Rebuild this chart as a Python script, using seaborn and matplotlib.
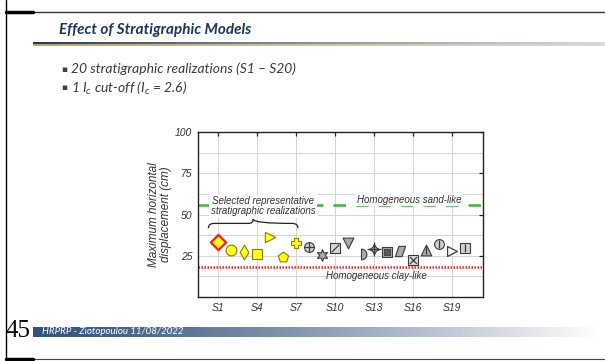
import matplotlib
matplotlib.use("Agg")
import matplotlib.pyplot as plt
import numpy as np
import pandas as pd
import seaborn as sns
from matplotlib.path import Path
from matplotlib.patches import PathPatch

# ── Data ──────────────────────────────────────────────────────────────────────
realizations = [f"S{i}" for i in range(1, 21)]
max_disp = [33.5, 28.4, 27.0, 26.0, 36.5, 24.4, 33.0, 30.4, 25.4, 29.6,
            33.0, 26.0, 29.0, 27.0, 28.0, 22.6, 28.4, 32.0, 27.6, 29.6]
sand_like = 56.0
clay_like = 18.0
tick_labels = ["S1", "S4", "S7", "S10", "S13", "S16", "S19"]

df = pd.DataFrame({"real": realizations,
                   "pos": np.arange(1, len(realizations) + 1),
                   "disp": max_disp})

# ── Marker styles ─────────────────────────────────────────────────────────────
YEL, YEDGE = "#ffff1a", "#8a7d00"
GRY, GEDGE = "#a8a8a8", "#3c3c3c"
half_disk = Path.wedge(-90, 90)
para = Path([(-1, -1), (0.3, -1), (1, 1), (-0.3, 1), (-1, -1)],
            [Path.MOVETO, Path.LINETO, Path.LINETO, Path.LINETO, Path.CLOSEPOLY])
diag = Path([(-1, -1), (1, 1)], [Path.MOVETO, Path.LINETO])

# (marker, face, edge, size, lw, overlay marker, overlay size)
styles = [
    ("D", YEL, "#ff1a1a", 60, 1.6, None, 0),
    ("o", YEL, YEDGE, 60, 0.8, None, 0),
    ("d", YEL, YEDGE, 55, 0.8, None, 0),
    ("s", YEL, YEDGE, 55, 0.8, None, 0),
    (">", YEL, YEDGE, 55, 0.8, None, 0),
    ("p", YEL, YEDGE, 60, 0.8, None, 0),
    ("P", YEL, YEDGE, 60, 0.8, None, 0),
    ("o", "#d0d0d0", GEDGE, 50, 0.8, "+", 50),
    ((6, 1, 0), GRY, GEDGE, 70, 0.8, None, 0),
    ("s", "#d8d8d8", GEDGE, 45, 0.8, diag, 30),
    ("v", GRY, GEDGE, 60, 0.8, None, 0),
    (half_disk, GRY, GEDGE, 60, 0.8, None, 0),
    ((4, 1, 0), GRY, GEDGE, 55, 0.8, "+", 110),
    ("s", GRY, GEDGE, 50, 0.8, "s", 14),
    (para, GRY, GEDGE, 55, 0.8, None, 0),
    ("s", "#dcdcdc", GEDGE, 45, 0.8, "x", 25),
    ("^", GRY, GEDGE, 60, 0.8, "|", 40),
    ("o", "#d0d0d0", GEDGE, 50, 0.8, "|", 40),
    (">", "white", GEDGE, 50, 0.9, None, 0),
    ("s", "#d0d0d0", GEDGE, 50, 0.8, "|", 40),
]

# ── Figure / slide ────────────────────────────────────────────────────────────
sns.set_theme(style="white")
plt.rcParams["font.family"] = ["Liberation Sans", "DejaVu Sans"]
plt.rcParams["mathtext.fontset"] = "custom"
plt.rcParams["mathtext.it"] = "Lato:italic"
plt.rcParams["mathtext.rm"] = "Lato"

W, H = 605, 361
fig = plt.figure(figsize=(W / 100, H / 100), dpi=100)
fig.patch.set_facecolor("white")


def fx(px):
    return px / W


def fy(py):
    return 1 - py / H


# frame lines
fig.add_artist(plt.Line2D([fx(6), fx(6)], [0, 1], color="black", lw=1.0))
fig.add_artist(plt.Line2D([fx(6), 1], [fy(12), fy(12)], color="#333333", lw=1.0))
fig.add_artist(plt.Line2D([fx(6), fx(33)], [fy(12), fy(12)], color="black", lw=2.5))
fig.add_artist(plt.Line2D([fx(6), 1], [fy(359), fy(359)], color="#444444", lw=0.8))
fig.add_artist(plt.Line2D([fx(6), fx(33)], [fy(359), fy(359)], color="black", lw=2.5))

# title + gradient rule
fig.text(fx(59), fy(30), "Effect of Stratigraphic Models", family="Lato",
         style="italic", weight="bold", size=11, color="#1f3560", va="center")
grad = np.linspace(0, 1, 256)[None, :]
for y0, h, col in [(42, 2, (0.12, 0.2, 0.38)), (44, 2.5, (0.72, 0.65, 0.35))]:
    gax = fig.add_axes([fx(33), fy(y0 + h), fx(605 - 33), h / H])
    t = grad[..., None] ** 0.8
    rgb = np.array(col)[None, None, :] * (1 - t) + 0.85 * t
    gax.imshow(np.clip(rgb, 0, 1), aspect="auto")
    gax.axis("off")

bullets = ["20 stratigraphic realizations (S1 – S20)",
           "1 $I_c$ cut-off ($I_c$ = 2.6)"]
for i, b in enumerate(bullets):
    yy = 69 + 19 * i
    fig.text(fx(61), fy(yy), "▪", size=6.5, color="#404040", va="center",
             family="DejaVu Sans")
    fig.text(fx(71), fy(yy), b, family="Lato", style="italic", size=10,
             color="#3a3a3a", va="center")

# footer
fax = fig.add_axes([fx(33), fy(337), fx(600 - 33), 10 / H])
base = np.array([0.2, 0.32, 0.48])
t = grad[..., None] ** 1.2
rgb = base[None, None, :] * (1 - t) + t
fax.imshow(np.clip(rgb, 0, 1), aspect="auto")
fax.axis("off")
fig.text(fx(42), fy(332), "HRPRP - Ziotopoulou 11/08/2022", family="Lato",
         style="italic", size=7, color="white", va="center")
fig.text(fx(6), fy(337), "45", family="Liberation Serif", size=18,
         color="black", va="baseline")

# ── Chart ─────────────────────────────────────────────────────────────────────
ax = fig.add_axes([fx(198), fy(297), fx(483 - 198), (297 - 132) / H])
ax.set_facecolor("white")

for (m, face, edge, s, lw, ov, ovs), (_, row) in zip(styles, df.iterrows()):
    sns.scatterplot(x=[row["pos"]], y=[row["disp"]], marker=m, s=s,
                    color=face, edgecolor=edge, linewidth=lw, ax=ax,
                    legend=False, zorder=4)
    if ov is not None:
        if ov == "s":
            sns.scatterplot(x=[row["pos"]], y=[row["disp"]], marker="s", s=ovs,
                            color="#5a5a5a", edgecolor=GEDGE, linewidth=0.6,
                            ax=ax, legend=False, zorder=5)
        else:
            ax.scatter([row["pos"]], [row["disp"]], marker=ov, s=ovs,
                       color=GEDGE, linewidths=0.9, zorder=5)

ax.axhline(sand_like, color="#3cb83c", lw=1.8, ls=(0, (5, 4)), zorder=2)
ax.axhline(clay_like, color="#ff1a1a", lw=1.8, ls=(0, (0.6, 0.6)), zorder=2)

txt_kw = dict(style="italic", size=7, color="#333333", ha="center", va="center")
box = dict(facecolor="white", edgecolor="none", pad=1.2)
ax.text(4.45, 55.0, "Selected representative\nstratigraphic realizations",
        linespacing=1.05, bbox=box, zorder=3, **txt_kw)
ax.text(15.7, 59.0, "Homogeneous sand-like", bbox=box, zorder=3, **txt_kw)
ax.text(13.2, 12.5, "Homogeneous clay-like", zorder=3, **txt_kw)

# curly brace above S1 - S7
xl, xm, xr = 0.25, 3.7, 7.15
yb, yh, yt = 41.7, 44.6, 47.2
verts = [(xl, yb), (xl, yh), (xl + 0.45, yh), (xm - 0.35, yh), (xm, yh), (xm, yt),
         (xm, yh), (xr - 0.45, yh), (xr - 0.45, yh), (xr, yh), (xr, yb)]
codes = [Path.MOVETO, Path.CURVE3, Path.CURVE3, Path.LINETO, Path.CURVE3, Path.CURVE3,
         Path.CURVE3, Path.CURVE3, Path.LINETO, Path.CURVE3, Path.CURVE3]
ax.add_patch(PathPatch(Path(verts, codes), facecolor="none", edgecolor="#222222",
                       lw=0.9, zorder=3))

ax.set_xlim(-0.55, 21.4)
ax.set_ylim(0, 100)
ax.set_xticks(range(1, 21, 3))
ax.set_xticklabels(tick_labels)
ax.set_yticks([25, 50, 75, 100])
ax.set_yticks(np.arange(12.5, 100, 12.5), minor=True)
ax.grid(True, which="major", color="#d4d4d4", lw=0.7)
ax.grid(True, which="minor", axis="y", color="#d4d4d4", lw=0.7)
ax.set_axisbelow(True)
ax.tick_params(which="major", direction="in", length=3, width=0.9, color="#222222",
               top=True, right=True, labelsize=7.5, labelcolor="#333333", pad=4)
ax.tick_params(which="minor", length=0)
for lab in ax.get_xticklabels() + ax.get_yticklabels():
    lab.set_style("italic")
for sp in ax.spines.values():
    sp.set_color("#222222")
    sp.set_linewidth(1.0)
ax.set_xlabel("")
ax.set_ylabel("Maximum horizontal\ndisplacement (cm)", style="italic", size=8.5,
              color="#333333", labelpad=2, linespacing=1.0)

fig.savefig("out.png", dpi=100)
